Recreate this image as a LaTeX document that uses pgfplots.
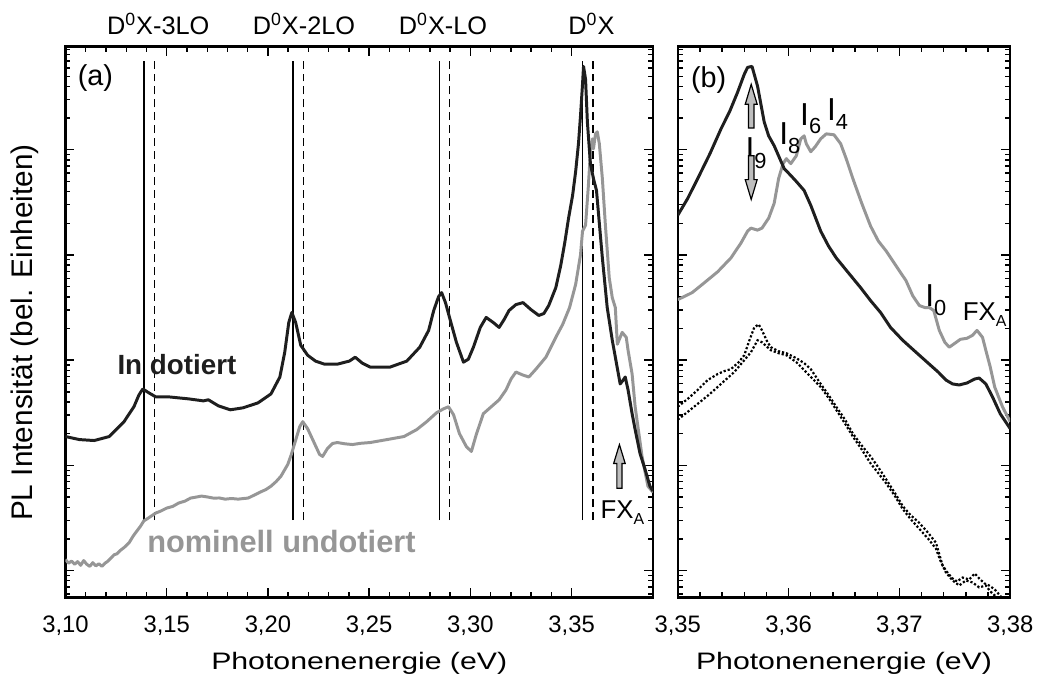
\documentclass[border=0pt]{standalone}
\usepackage{pgfplots}
\pgfplotsset{compat=1.18}
\usepackage{fontspec}
\setmainfont{Liberation Sans}
\newfontfamily\labfont{Liberation Sans}[FakeStretch=1.27]

\definecolor{cblack}{RGB}{30,30,30}
\definecolor{cgray}{RGB}{150,150,150}
\definecolor{arrgray}{RGB}{190,190,190}

% y values are log10 of the intensity (arb. units), axis drawn in decades
\pgfplotsset{
  pl/.style={
    scale only axis, height=277.5pt,
    ymin=-0.255, ymax=4.98,
    ytick={0,1,2,3,4}, yticklabels={},
    minor ytick={-0.222,-0.155,-0.097,-0.046,
      0.301,0.477,0.602,0.699,0.778,0.845,0.903,0.954,
      1.301,1.477,1.602,1.699,1.778,1.845,1.903,1.954,
      2.301,2.477,2.602,2.699,2.778,2.845,2.903,2.954,
      3.301,3.477,3.602,3.699,3.778,3.845,3.903,3.954,
      4.301,4.477,4.602,4.699,4.778,4.845,4.903,4.954},
    minor x tick num=4,
    tick align=inside,
    major tick length=4.5pt, minor tick length=2.5pt,
    every tick/.style={black, line width=0.7pt},
    axis line style={line width=1.2pt},
    tick label style={font=\fontsize{12}{14}\selectfont},
    xticklabel style={yshift=-6pt,
      /pgf/number format/fixed, /pgf/number format/fixed zerofill,
      /pgf/number format/precision=2, /pgf/number format/use comma,
      /pgf/number format/assume math mode=true},
    xlabel={Photonenenergie (eV)},
    xlabel style={font=\labfont\fontsize{12}{14}\selectfont,
      at={(axis description cs:0.5,-0.1315)}, anchor=base},
    clip mode=individual,
  },
  blk/.style={cblack, line width=1.5pt, line join=round},
  gry/.style={cgray, line width=1.5pt, line join=round},
  vsol/.style={black, line width=0.7pt},
  vdash/.style={black, line width=0.7pt, dash pattern=on 4pt off 2.5pt},
}
\tikzset{
  top label/.style={anchor=base, inner sep=0, font=\fontsize{12.75}{14}\selectfont},
  txt/.style={anchor=base west, inner sep=0},
  arrowfill/.style={line width=0.6pt, fill=arrgray},
}

\newcommand{\Isub}[1]{I\raisebox{-4.5pt}{\fontsize{11}{11}\selectfont #1}}

\begin{document}
\begin{tikzpicture}
\useasboundingbox (-33pt,-42.5pt) rectangle (490pt,301pt);

% ---------------- (a) ----------------
\begin{axis}[pl,
  width=296pt,
  xmin=3.10, xmax=3.3902,
  xtick={3.10,3.15,3.20,3.25,3.30,3.35},
  ylabel={PL Intensität (bel. Einheiten)},
  ylabel style={font=\fontsize{15}{18}\selectfont,
    at={(axis description cs:-0.0693,0.481)}, anchor=center},
]
% phonon replica markers
\addplot[vsol] coordinates {(3.1387,0.48) (3.1387,4.84)};
\addplot[vdash] coordinates {(3.1441,0.48) (3.1441,4.84)};
\addplot[vsol] coordinates {(3.2123,0.48) (3.2123,4.84)};
\addplot[vdash] coordinates {(3.2175,0.48) (3.2175,4.84)};
\addplot[vsol] coordinates {(3.2846,0.48) (3.2846,4.84)};
\addplot[vdash] coordinates {(3.2896,0.48) (3.2896,4.84)};
\addplot[vsol] coordinates {(3.3555,0.48) (3.3555,4.84)};
\addplot[vdash] coordinates {(3.3606,0.48) (3.3606,4.84)};

% nominell undotiert
\addplot[gry] coordinates {
(3.1000,0.105)(3.1015,0.070)(3.1030,0.090)(3.1045,0.060)(3.1060,0.085)(3.1075,0.050)
(3.1090,0.095)(3.1105,0.060)(3.1120,0.040)(3.1135,0.075)(3.1150,0.045)(3.1165,0.065)
(3.1180,0.040)(3.1195,0.070)(3.1210,0.090)(3.1225,0.120)(3.1240,0.150)(3.1255,0.160)
(3.1270,0.190)(3.1290,0.220)(3.1314,0.264)(3.1335,0.330)(3.1353,0.377)(3.1370,0.420)
(3.1387,0.472)(3.1410,0.500)(3.1446,0.547)(3.1470,0.565)(3.1500,0.594)(3.1530,0.610)
(3.1559,0.642)(3.1590,0.660)(3.1618,0.689)(3.1650,0.700)(3.1672,0.708)(3.1700,0.700)
(3.1730,0.689)(3.1760,0.690)(3.1789,0.679)(3.1820,0.685)(3.1853,0.679)(3.1880,0.685)
(3.1902,0.689)(3.1930,0.715)(3.1961,0.745)(3.1990,0.770)(3.2015,0.802)(3.2040,0.845)
(3.2064,0.896)(3.2098,1.009)(3.2115,1.100)(3.2132,1.208)(3.2157,1.368)(3.2172,1.415)
(3.2196,1.349)(3.2230,1.208)(3.2255,1.104)(3.2270,1.085)(3.2294,1.160)(3.2319,1.208)
(3.2343,1.217)(3.2380,1.205)(3.2417,1.198)(3.2460,1.210)(3.2505,1.217)(3.2588,1.245)
(3.2672,1.274)(3.2735,1.340)(3.2784,1.415)(3.2833,1.500)(3.2868,1.538)(3.2892,1.557)
(3.2917,1.481)(3.2946,1.302)(3.2980,1.179)(3.3005,1.132)(3.3029,1.292)(3.3064,1.491)
(3.3103,1.557)(3.3142,1.623)(3.3176,1.717)(3.3201,1.821)(3.3225,1.887)(3.3260,1.858)
(3.3289,1.840)(3.3324,1.915)(3.3373,2.028)(3.3422,2.217)(3.3456,2.340)(3.3490,2.500)
(3.3520,2.720)(3.3544,3.000)(3.3554,3.226)(3.3569,3.283)(3.3583,3.660)(3.3593,3.981)
(3.3603,4.104)(3.3608,4.009)(3.3618,4.151)(3.3627,4.170)(3.3637,4.057)(3.3652,3.726)
(3.3667,3.283)(3.3686,2.783)(3.3701,2.594)(3.3716,2.500)(3.3726,2.151)(3.3740,2.217)
(3.3750,2.264)(3.3770,2.217)(3.3779,2.094)(3.3799,1.868)(3.3814,1.557)(3.3848,1.085)
(3.3877,0.802)(3.3902,0.745)
};

% In dotiert
\addplot[blk] coordinates {
(3.1000,1.274)(3.1069,1.245)(3.1142,1.236)(3.1216,1.274)(3.1289,1.415)(3.1338,1.557)
(3.1363,1.670)(3.1382,1.726)(3.1412,1.689)(3.1446,1.651)(3.1510,1.651)(3.1608,1.632)
(3.1681,1.613)(3.1706,1.623)(3.1755,1.566)(3.1814,1.528)(3.1877,1.547)(3.1951,1.594)
(3.2015,1.679)(3.2059,1.840)(3.2083,2.075)(3.2103,2.358)(3.2118,2.453)(3.2137,2.358)
(3.2162,2.142)(3.2196,2.047)(3.2235,1.991)(3.2279,1.962)(3.2343,1.962)(3.2402,1.991)
(3.2431,2.028)(3.2466,1.972)(3.2505,1.934)(3.2603,1.934)(3.2686,1.991)(3.2750,2.123)
(3.2794,2.283)(3.2819,2.472)(3.2843,2.604)(3.2858,2.642)(3.2877,2.547)(3.2897,2.406)
(3.2931,2.170)(3.2966,1.981)(3.2990,2.009)(3.3015,2.123)(3.3049,2.311)(3.3078,2.406)
(3.3113,2.358)(3.3142,2.311)(3.3167,2.387)(3.3191,2.472)(3.3225,2.528)(3.3260,2.547)
(3.3299,2.481)(3.3338,2.425)(3.3363,2.443)(3.3387,2.519)(3.3422,2.689)(3.3446,2.896)
(3.3466,3.113)(3.3485,3.349)(3.3505,3.566)(3.3520,3.792)(3.3534,4.057)(3.3544,4.321)
(3.3554,4.623)(3.3559,4.792)(3.3569,4.670)(3.3578,4.264)(3.3593,3.868)(3.3608,3.726)
(3.3623,3.613)(3.3637,3.302)(3.3652,2.972)(3.3676,2.500)(3.3701,2.189)(3.3725,1.934)
(3.3740,1.774)(3.3755,1.811)(3.3765,1.840)(3.3779,1.717)(3.3799,1.491)(3.3814,1.340)
(3.3838,1.113)(3.3863,0.962)(3.3887,0.802)(3.3902,0.755)
};

\node[top label] at (axis cs:3.1458,5.094) {D\textsuperscript{0}X-3LO};
\node[top label] at (axis cs:3.2178,5.094) {D\textsuperscript{0}X-2LO};
\node[top label] at (axis cs:3.2865,5.094) {D\textsuperscript{0}X-LO};
\node[top label] at (axis cs:3.3598,5.094) {D\textsuperscript{0}X};

\node[txt, font=\fontsize{14.5}{16}\selectfont]
  at (axis cs:3.1059,4.613) {(a)};
\node[txt, font=\bfseries\fontsize{14}{16}\selectfont, text=cblack]
  at (axis cs:3.1255,1.868) {In dotiert};
\node[txt, font=\bfseries\fontsize{15.5}{18}\selectfont, text=cgray]
  at (axis cs:3.1402,0.170) {nominell undotiert};
\node[txt, font=\fontsize{13}{15}\selectfont]
  at (axis cs:3.3642,0.491) {FX\raisebox{-3pt}{\fontsize{8}{8}\selectfont A}};
\end{axis}

% ---------------- (b) ----------------
\begin{axis}[pl,
  at={(308.5pt,0)}, anchor=south west,
  width=167.5pt,
  xmin=3.35, xmax=3.38,
  xtick={3.35,3.36,3.37,3.38},
]
% dotted spectra
\addplot[black, line width=1.1pt, densely dotted] coordinates {
(3.3500,1.434)(3.3509,1.509)(3.3518,1.585)(3.3529,1.679)(3.3539,1.774)(3.3551,1.887)
(3.3560,2.000)(3.3566,2.075)(3.3572,2.189)(3.3576,2.170)(3.3584,2.094)(3.3591,2.066)
(3.3598,2.047)(3.3607,1.981)(3.3614,1.906)(3.3621,1.830)(3.3629,1.745)(3.3636,1.642)
(3.3643,1.528)(3.3651,1.396)(3.3658,1.274)(3.3666,1.151)(3.3674,1.019)(3.3681,0.925)
(3.3688,0.830)(3.3696,0.708)(3.3703,0.585)(3.3710,0.491)(3.3718,0.396)(3.3726,0.302)
(3.3733,0.208)(3.3737,0.094)(3.3742,-0.019)(3.3748,-0.094)(3.3754,-0.142)(3.3760,-0.094)
(3.3766,-0.113)(3.3772,-0.160)(3.3778,-0.142)(3.3782,-0.198)(3.3786,-0.236)(3.3791,-0.283)
(3.3795,-0.302)
};
\addplot[black, line width=1.1pt, densely dotted] coordinates {
(3.3500,1.557)(3.3509,1.632)(3.3518,1.717)(3.3527,1.811)(3.3536,1.868)(3.3542,1.896)
(3.3548,1.915)(3.3555,1.981)(3.3560,2.047)(3.3564,2.170)(3.3569,2.311)(3.3573,2.340)
(3.3576,2.283)(3.3581,2.170)(3.3584,2.123)(3.3591,2.085)(3.3598,2.066)(3.3607,2.019)
(3.3614,1.972)(3.3620,1.915)(3.3629,1.774)(3.3636,1.670)(3.3643,1.557)(3.3651,1.434)
(3.3658,1.302)(3.3666,1.189)(3.3674,1.085)(3.3681,0.981)(3.3688,0.868)(3.3696,0.736)
(3.3703,0.613)(3.3710,0.528)(3.3718,0.453)(3.3726,0.358)(3.3733,0.264)(3.3739,0.047)
(3.3744,-0.028)(3.3748,-0.075)(3.3752,-0.104)(3.3757,-0.066)(3.3763,-0.085)(3.3768,-0.028)
(3.3772,-0.075)(3.3777,-0.123)(3.3781,-0.142)(3.3786,-0.179)(3.3793,-0.264)
};

% nominell undotiert
\addplot[gry] coordinates {
(3.3500,2.575)(3.3513,2.642)(3.3524,2.736)(3.3536,2.840)(3.3548,2.972)(3.3557,3.113)
(3.3563,3.226)(3.3566,3.255)(3.3572,3.236)(3.3576,3.255)(3.3582,3.349)(3.3587,3.491)
(3.3591,3.726)(3.3595,3.868)(3.3598,3.915)(3.3602,3.868)(3.3607,3.943)(3.3611,4.104)
(3.3614,4.132)(3.3616,4.057)(3.3620,3.981)(3.3624,4.028)(3.3629,4.104)(3.3634,4.151)
(3.3641,4.142)(3.3647,4.057)(3.3652,3.915)(3.3658,3.726)(3.3666,3.491)(3.3674,3.274)
(3.3681,3.132)(3.3688,3.038)(3.3697,2.896)(3.3706,2.755)(3.3712,2.613)(3.3718,2.519)
(3.3723,2.500)(3.3727,2.500)(3.3731,2.472)(3.3736,2.283)(3.3741,2.170)(3.3745,2.123)
(3.3750,2.160)(3.3755,2.198)(3.3761,2.208)(3.3766,2.236)(3.3770,2.283)(3.3775,2.217)
(3.3778,2.094)(3.3782,1.934)(3.3786,1.745)(3.3793,1.557)(3.3800,1.415)
};

% In dotiert
\addplot[blk] coordinates {
(3.3500,3.377)(3.3509,3.538)(3.3518,3.726)(3.3529,3.962)(3.3539,4.198)(3.3547,4.368)
(3.3554,4.547)(3.3560,4.717)(3.3563,4.783)(3.3567,4.792)(3.3572,4.604)(3.3575,4.434)
(3.3578,4.264)(3.3582,4.132)(3.3587,4.038)(3.3596,3.821)(3.3602,3.755)(3.3607,3.698)
(3.3614,3.613)(3.3620,3.472)(3.3629,3.226)(3.3636,3.085)(3.3643,2.972)(3.3654,2.830)
(3.3665,2.689)(3.3674,2.566)(3.3683,2.453)(3.3692,2.311)(3.3703,2.189)(3.3715,2.075)
(3.3727,1.962)(3.3735,1.887)(3.3742,1.811)(3.3748,1.774)(3.3754,1.764)(3.3761,1.783)
(3.3768,1.821)(3.3772,1.830)(3.3778,1.774)(3.3784,1.651)(3.3791,1.491)(3.3800,1.349)
};
\end{axis}

% arrows and labels of panel (b), in pt from the lower left corner of panel (a)
\draw[arrowfill] (279.1pt,55pt)
  ++(-1.3pt,0) -- ++(0,12.5pt) -- ++(-1.6pt,0) -- ++(2.9pt,9.5pt) -- ++(2.9pt,-9.5pt)
  -- ++(-1.6pt,0) -- ++(0,-12.5pt) -- cycle;
\node[txt, font=\fontsize{14.5}{16}\selectfont] at (315pt,257pt) {(b)};
\node[txt, font=\fontsize{16}{18}\selectfont] at (342.5pt,220.5pt) {\Isub{9}};
\node[txt, font=\fontsize{16}{18}\selectfont] at (359.5pt,228pt) {\Isub{8}};
\node[txt, font=\fontsize{16}{18}\selectfont] at (370pt,238pt) {\Isub{6}};
\node[txt, font=\fontsize{16}{18}\selectfont] at (383.5pt,240.5pt) {\Isub{4}};
\node[txt, font=\fontsize{16}{18}\selectfont] at (433pt,146.5pt) {\Isub{0}};
\node[txt, font=\fontsize{13}{15}\selectfont] at (452pt,139.5pt)
  {FX\raisebox{-3pt}{\fontsize{8}{8}\selectfont A}};
\draw[arrowfill] (345.5pt,236.5pt)
  ++(-1.4pt,0) -- ++(0,12pt) -- ++(-1.6pt,0) -- ++(3pt,10pt) -- ++(3pt,-10pt)
  -- ++(-1.6pt,0) -- ++(0,-12pt) -- cycle;
\draw[arrowfill] (345.5pt,222.5pt)
  ++(-1.4pt,0) -- ++(0,-12pt) -- ++(-1.6pt,0) -- ++(3pt,-10pt) -- ++(3pt,10pt)
  -- ++(-1.6pt,0) -- ++(0,12pt) -- cycle;
\end{tikzpicture}
\end{document}
